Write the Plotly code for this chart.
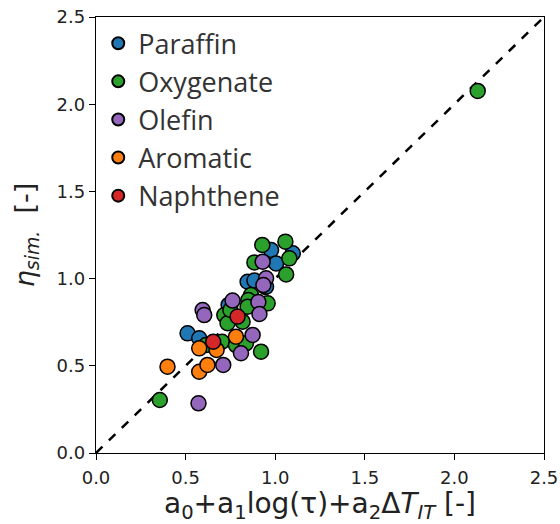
import plotly.graph_objects as go

categories = ["Paraffin", "Oxygenate", "Olefin", "Aromatic", "Naphthene"]
colors = ["#1f77b4", "#2ca02c", "#9467bd", "#ff7f0e", "#d62728"]

paraffin_x = [0.977, 1.098, 1.005, 0.846, 0.884, 0.945, 0.949, 0.740, 0.511, 0.576]
paraffin_y = [1.164, 1.145, 1.087, 0.982, 0.989, 0.952, 0.954, 0.849, 0.686, 0.658]

oxygenate_x = [2.13, 0.928, 1.057, 1.079, 0.884, 1.061, 0.865, 0.850, 0.958, 0.846,
               0.716, 0.818, 0.734, 0.703, 0.614, 0.781, 0.837, 0.921, 0.356, 0.75]
oxygenate_y = [2.076, 1.193, 1.212, 1.116, 1.093, 1.024, 0.906, 0.877, 0.858, 0.839,
               0.791, 0.753, 0.744, 0.638, 0.619, 0.619, 0.629, 0.581, 0.304, 0.82]

olefin_x = [0.930, 0.949, 0.934, 0.762, 0.906, 0.912, 0.595, 0.604, 0.874, 0.809, 0.710, 0.572]
olefin_y = [1.097, 1.002, 0.963, 0.874, 0.866, 0.797, 0.820, 0.791, 0.677, 0.572, 0.505, 0.285]

aromatic_x = [0.781, 0.399, 0.576, 0.622, 0.576, 0.673]
aromatic_y = [0.667, 0.495, 0.466, 0.505, 0.600, 0.591]

naphthene_x = [0.790, 0.654]
naphthene_y = [0.782, 0.638]

series_x = [paraffin_x, oxygenate_x, olefin_x, aromatic_x, naphthene_x]
series_y = [paraffin_y, oxygenate_y, olefin_y, aromatic_y, naphthene_y]

tick_vals = [0.0, 0.5, 1.0, 1.5, 2.0, 2.5]
tick_text = ["0.0", "0.5", "1.0", "1.5", "2.0", "2.5"]
diag = [0.0, 2.5]

fig = go.Figure()
fig.add_trace(go.Scatter(x=diag, y=diag, mode="lines",
                         line=dict(color="black", width=2.5, dash="dash"),
                         showlegend=False, hoverinfo="skip"))
for name, c, xs, ys in zip(categories, colors, series_x, series_y):
    fig.add_trace(go.Scatter(x=xs, y=ys, mode="markers", name=name,
                             marker=dict(color=c, size=15,
                                         line=dict(color="black", width=1.5))))

axis_common = dict(range=[0, 2.5], tickvals=tick_vals, ticktext=tick_text,
                   showgrid=False, zeroline=False, showline=True, mirror=True,
                   linecolor="black", linewidth=1.3, ticks="outside", ticklen=6,
                   tickcolor="black", tickwidth=1.3, automargin=False,
                   tickfont=dict(family="DejaVu Sans", size=18, color="#222"))

fig.update_layout(
    width=560, height=524,
    margin=dict(l=96, r=16, t=17, b=71),
    plot_bgcolor="white", paper_bgcolor="white",
    xaxis=dict(**axis_common, ticklabelstandoff=2,
               title=dict(text="a<sub>0</sub>+a<sub>1</sub>log(τ)+a<sub>2</sub>Δ<i>T</i><sub><i>IT</i></sub> [-]",
                          font=dict(family="DejaVu Sans", size=28, color="#222"), standoff=17)),
    yaxis=dict(**axis_common,
               title=dict(text="<i>η</i><sub><i>sim.</i></sub>  [-]",
                          font=dict(family="DejaVu Sans", size=27, color="#222"), standoff=14)),
    legend=dict(x=0.005, y=0.995, xanchor="left", yanchor="top",
                font=dict(family="Open Sans", size=27, color="#333"),
                bgcolor="rgba(0,0,0,0)", itemsizing="constant", tracegroupgap=0),
    showlegend=True,
)

fig.write_html("out.html")
